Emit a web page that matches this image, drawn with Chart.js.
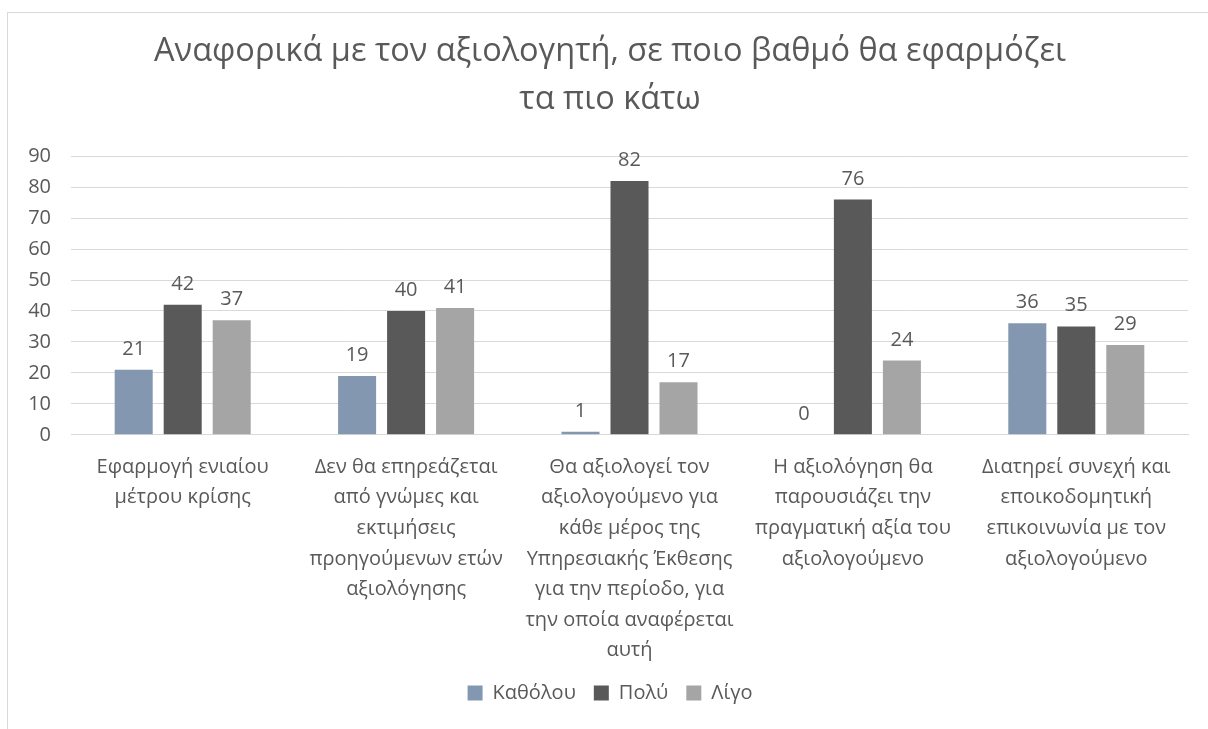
<!DOCTYPE html>
<html>
<head>
<meta charset="utf-8">
<script src="https://cdn.jsdelivr.net/npm/chart.js@4"></script>
<style>
  html, body { margin: 0; padding: 0; background: #fff; overflow: hidden; }
  #frame {
    position: absolute; left: 7px; top: 12px;
    width: 1220px; height: 740px;
    border: 1px solid #d9d9d9; box-sizing: border-box;
  }
  #wrap { position: absolute; left: 0; top: 0; width: 1204px; height: 716px; }
</style>
</head>
<body>
<div id="frame"><div id="wrap"><canvas id="evalChart"></canvas></div></div>
<script>
// Survey answers per statement
const categories = [
  ['Εφαρμογή ενιαίου', 'μέτρου κρίσης'],
  ['Δεν θα επηρεάζεται', 'από γνώμες και', 'εκτιμήσεις', 'προηγούμενων ετών', 'αξιολόγησης'],
  ['Θα αξιολογεί τον', 'αξιολογούμενο για', 'κάθε μέρος της', 'Υπηρεσιακής Έκθεσης', 'για την περίοδο, για', 'την οποία αναφέρεται', 'αυτή'],
  ['Η αξιολόγηση θα', 'παρουσιάζει την', 'πραγματική αξία του', 'αξιολογούμενο'],
  ['Διατηρεί συνεχή και', 'εποικοδομητική', 'επικοινωνία με τον', 'αξιολογούμενο']
];
const seriesNames = ['Καθόλου', 'Πολύ', 'Λίγο'];
const katholou = [21, 19, 1, 0, 36];
const poly = [42, 40, 82, 76, 35];
const ligo = [37, 41, 17, 24, 29];
const yTicks = [0, 10, 20, 30, 40, 50, 60, 70, 80, 90];

const colors = ['#8497b0', '#595959', '#a5a5a5'];
const textColor = '#595959';
const FONT = "'Open Sans', sans-serif";

// value labels above each bar
const barValueLabels = {
  id: 'barValueLabels',
  afterDatasetsDraw(chart) {
    const ctx = chart.ctx;
    ctx.save();
    ctx.font = '20px ' + FONT;
    ctx.fillStyle = textColor;
    ctx.textAlign = 'center';
    ctx.textBaseline = 'alphabetic';
    chart.data.datasets.forEach((ds, i) => {
      const meta = chart.getDatasetMeta(i);
      meta.data.forEach((bar, j) => {
        ctx.fillText(String(ds.data[j]), bar.x, bar.y - 15);
      });
    });
    ctx.restore();
  }
};

const values = [katholou, poly, ligo];

new Chart(document.getElementById('evalChart'), {
  type: 'bar',
  data: {
    labels: categories,
    datasets: seriesNames.map((name, i) => ({
      label: name,
      data: values[i],
      backgroundColor: colors[i],
      borderWidth: 0,
      categoryPercentage: 0.658,
      barPercentage: 0.776
    }))
  },
  options: {
    responsive: true,
    maintainAspectRatio: false,
    animation: false,
    layout: { padding: { left: 0, right: 0, top: 10, bottom: 16 } },
    plugins: {
      title: {
        display: true,
        text: ['Αναφορικά με τον αξιολογητή, σε ποιο βαθμό θα εφαρμόζει', 'τα πιο κάτω'],
        color: textColor,
        font: { family: FONT, size: 32.5, weight: 'normal', lineHeight: 1.48 },
        padding: { top: 5, bottom: 32 }
      },
      legend: {
        position: 'bottom',
        labels: {
          color: textColor,
          font: { family: FONT, size: 20 },
          boxWidth: 15,
          boxHeight: 15,
          padding: 18
        }
      },
      tooltip: { enabled: false }
    },
    scales: {
      x: {
        grid: { display: false },
        border: { display: true, color: '#d9d9d9' },
        // long labels may run into the legend's spare top padding
        afterFit: (axis) => { axis.height -= 10; },
        ticks: {
          color: textColor,
          font: { family: FONT, size: 20, lineHeight: 1.53 },
          maxRotation: 0,
          autoSkip: false,
          padding: 9
        }
      },
      y: {
        min: 0,
        max: 90,
        afterBuildTicks: (axis) => { axis.ticks = yTicks.map(v => ({ value: v })); },
        afterFit: (axis) => { axis.width = 63; },
        grid: { color: '#d9d9d9', drawTicks: false },
        border: { display: false },
        ticks: {
          color: textColor,
          font: { family: FONT, size: 20 },
          padding: 20
        }
      },
      // blank right margin, kept inside the layout so title and legend centre on the frame
      spacer: {
        type: 'linear',
        position: 'right',
        afterFit: (axis) => { axis.width = 24; },
        grid: { display: false },
        border: { display: false },
        ticks: { display: false }
      }
    }
  },
  plugins: [barValueLabels]
});
</script>
</body>
</html>
